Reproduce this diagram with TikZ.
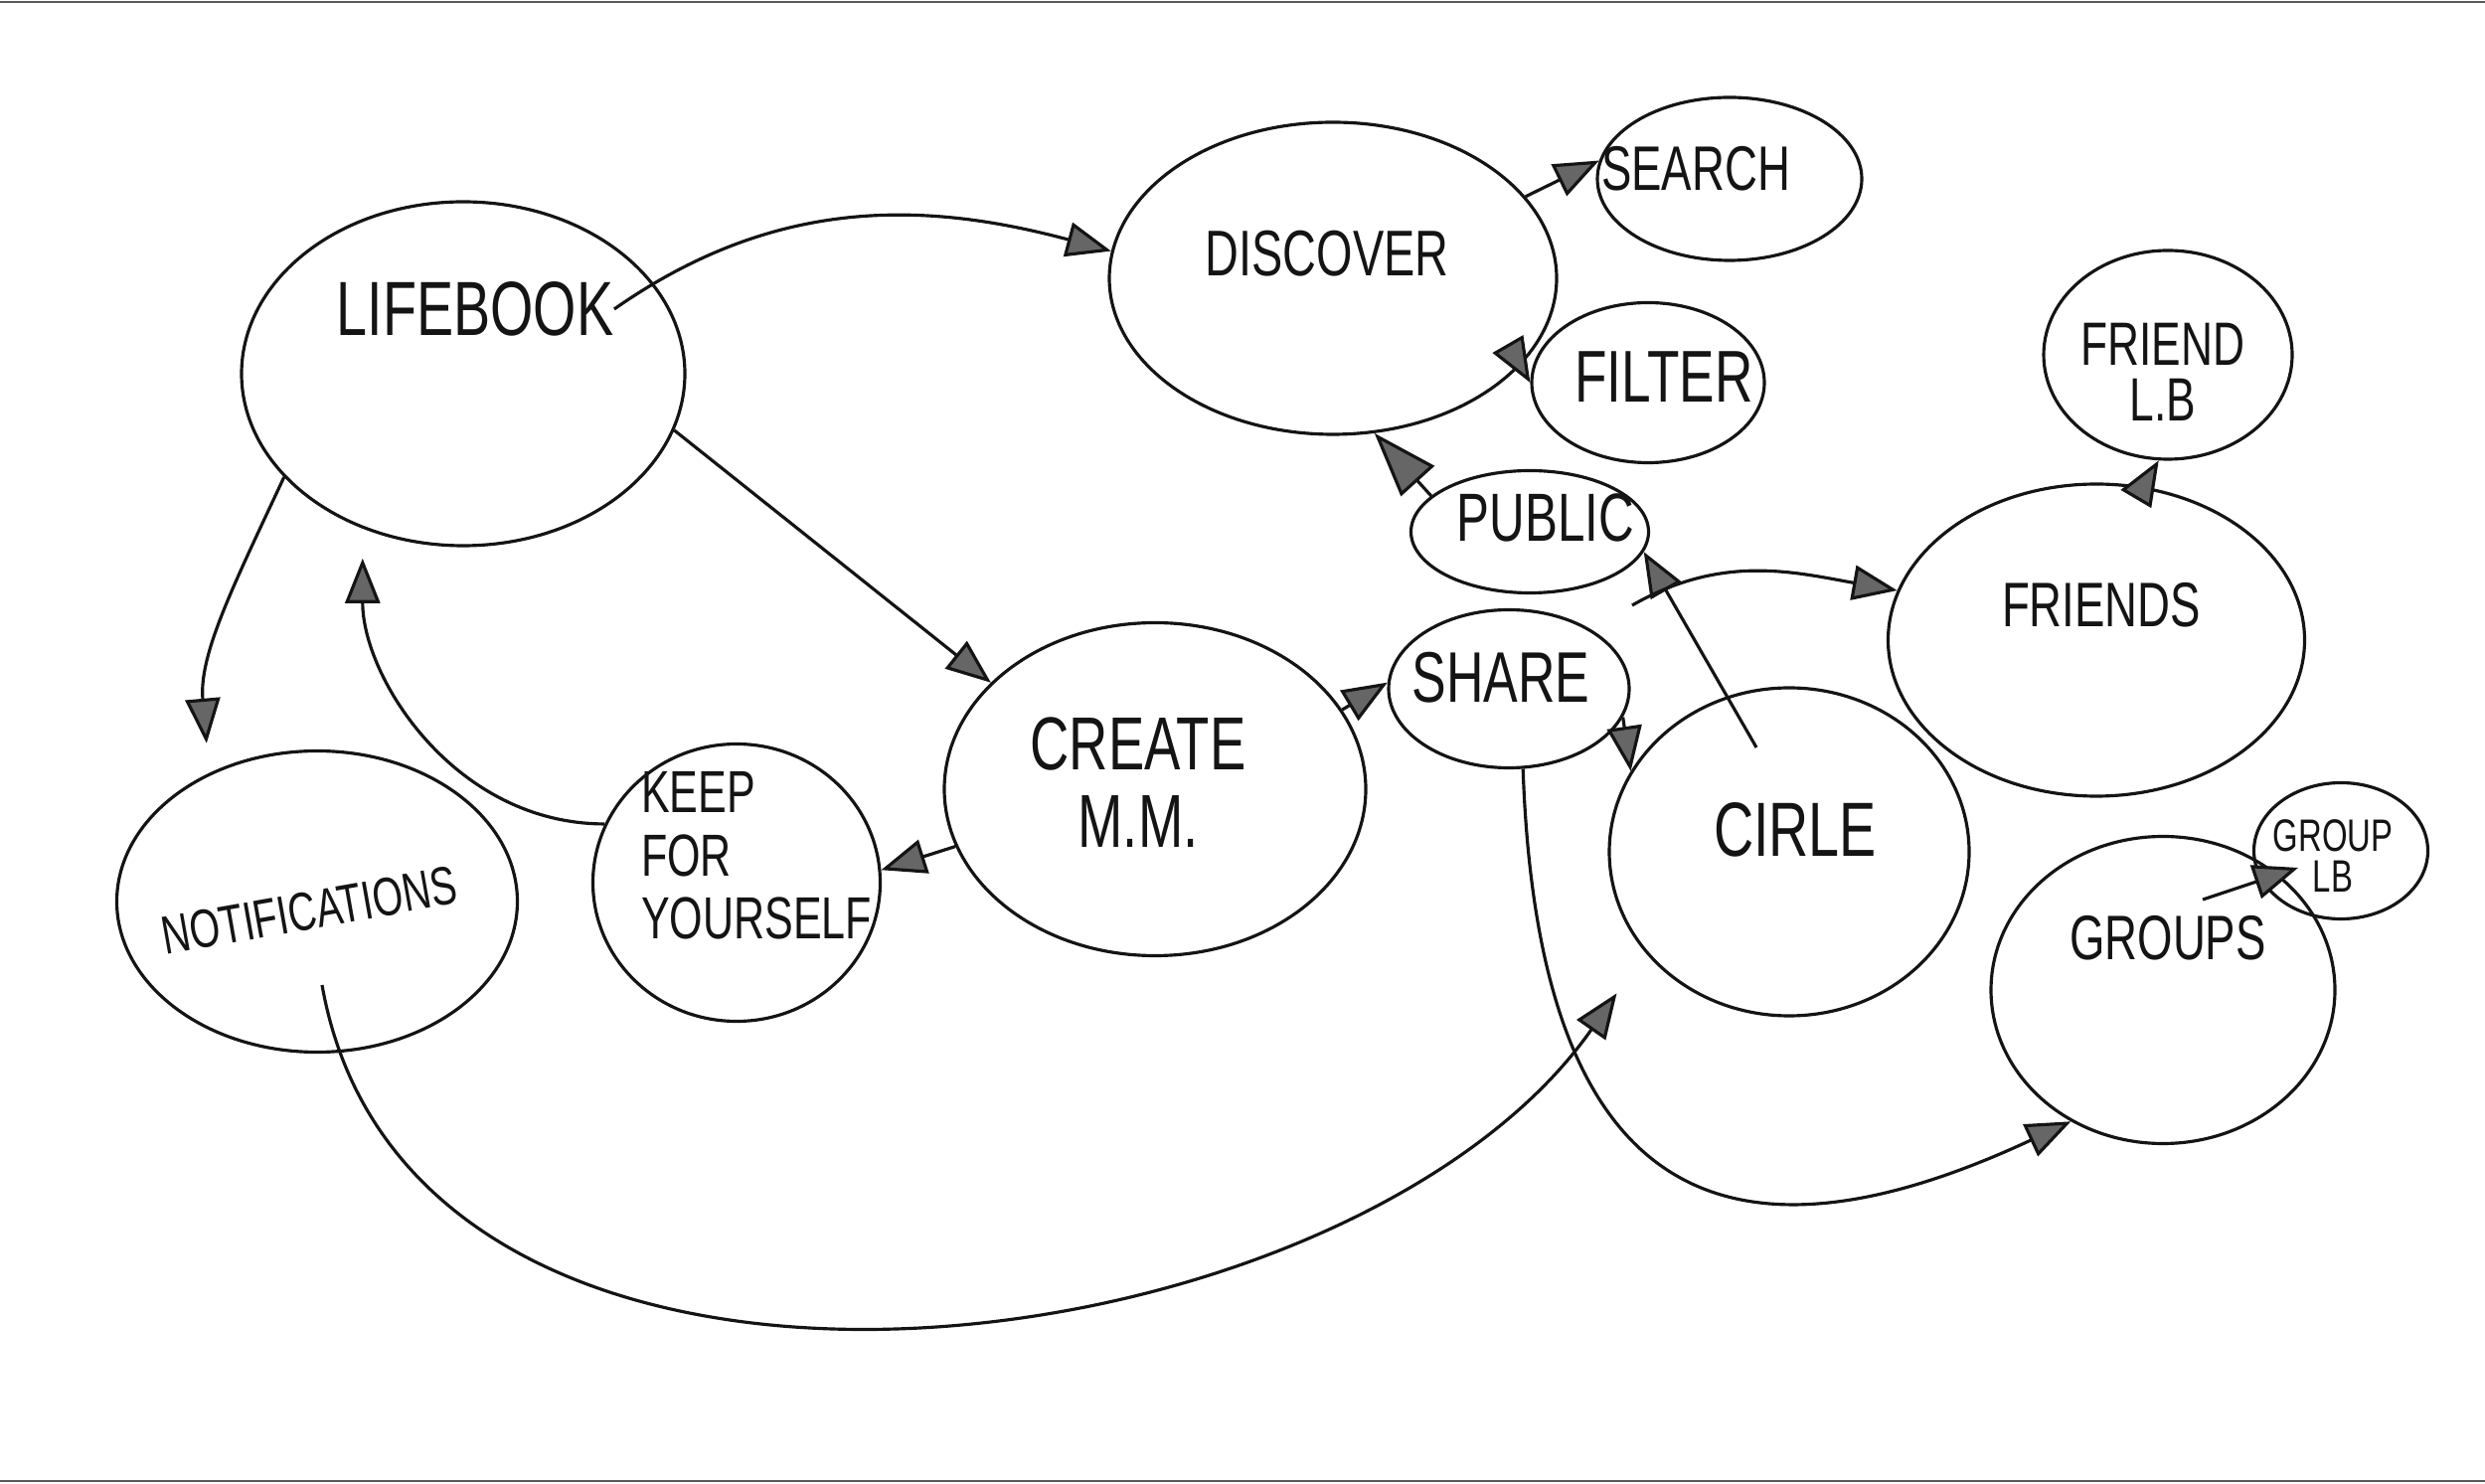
\documentclass[tikz,border=0pt]{standalone}
\usepackage{fontspec}
\usepackage{tikz}
\usetikzlibrary{arrows.meta, positioning, shapes.geometric}
\newfontfamily\handfont[FakeStretch=0.72]{Liberation Sans}
\newcommand{\handsize}[2]{\handfont\fontsize{#1}{#2}\selectfont}
\definecolor{inkblack}{RGB}{20, 20, 20}
\definecolor{scanframe}{RGB}{90, 90, 90}
\tikzset{
  bubble/.style={ellipse, draw=inkblack, line width=0.9pt, inner sep=0pt},
  scrawl/.style={text=inkblack, inner sep=0pt, align=center},
  link/.style={->, line width=0.9pt, draw=inkblack},
  big tip/.style={-{Triangle[length=6.5mm, width=4.5mm, fill=black!60]}},
}

\begin{document}
\begin{tikzpicture}[>={Triangle[length=4.5mm, width=3.5mm, fill=black!60]}]
  \useasboundingbox (0,0) rectangle (25,14.92);

  % --- scan frame ---
  \draw[scanframe, line width=0.7pt] (0,14.9) -- (25,14.9);
  \draw[scanframe, line width=0.7pt] (0,0.02) -- (25,0.02);

  % --- bubbles ---
  \node[bubble, minimum width=4.46cm, minimum height=3.46cm] (lifebook) at (4.66,11.16) {};
  \node[bubble, minimum width=4.50cm, minimum height=3.14cm] (discover) at (13.41,12.12) {};
  \node[bubble, minimum width=2.66cm, minimum height=1.64cm] (search) at (17.40,13.12) {};
  \node[bubble, minimum width=2.34cm, minimum height=1.61cm] (filter) at (16.58,11.07) {};
  \node[bubble, minimum width=2.50cm, minimum height=2.10cm] (friendlb) at (21.81,11.35) {};
  \node[bubble, minimum width=2.39cm, minimum height=1.23cm] (public) at (15.39,9.57) {};
  \node[bubble, minimum width=4.19cm, minimum height=3.14cm] (friends) at (21.09,8.48) {};
  \node[bubble, minimum width=2.42cm, minimum height=1.59cm] (share) at (15.18,7.99) {};
  \node[bubble, minimum width=4.24cm, minimum height=3.35cm] (create) at (11.62,6.98) {};
  \node[bubble, minimum width=3.62cm, minimum height=3.30cm] (circle) at (18.00,6.35) {};
  \node[bubble, minimum width=2.89cm, minimum height=2.79cm] (keep) at (7.41,6.04) {};
  \node[bubble, minimum width=4.03cm, minimum height=3.03cm] (notif) at (3.19,5.85) {};
  \node[bubble, minimum width=3.46cm, minimum height=3.09cm] (groups) at (21.76,4.96) {};
  \node[bubble, minimum width=1.75cm, minimum height=1.37cm] (grouplb) at (23.55,6.36) {};

  % --- handwritten labels ---
  \node[scrawl, font={\handsize{22pt}{26pt}}] (lifebookTxt) at (4.78,11.81) {LIFEBOOK};
  \node[scrawl, font={\handsize{18.5pt}{22pt}}] (discoverTxt) at (13.35,12.37) {DISCOVER};
  \node[scrawl, font={\handsize{18pt}{22pt}}] (searchTxt) at (17.06,13.22) {SEARCH};
  \node[scrawl, font={\handsize{21pt}{25pt}}] (filterTxt) at (16.74,11.13) {FILTER};
  \node[scrawl, font={\handsize{17.5pt}{16pt}}] (friendlbTxt) at (21.76,11.18) {FRIEND\\L.B};
  \node[scrawl, font={\handsize{19.5pt}{23pt}}] (publicTxt) at (15.55,9.71) {PUBLIC};
  \node[scrawl, font={\handsize{18pt}{22pt}}] (friendsTxt) at (21.14,8.83) {FRIENDS};
  \node[scrawl, font={\handsize{20.5pt}{24pt}}] (shareTxt) at (15.10,8.10) {SHARE};
  \node[scrawl, font={\handsize{21.5pt}{22pt}}] (createTxt) at (11.45,7.05) {CREATE\\M.M.};
  \node[scrawl, font={\handsize{22pt}{26pt}}] (circleTxt) at (18.06,6.57) {CIRLE};
  \node[scrawl, align=left, font={\handsize{17pt}{18pt}}] (keepTxt) at (7.61,6.31) {KEEP\\FOR\\YOURSELF};
  \node[scrawl, rotate=10, font={\handsize{15.5pt}{18pt}}] (notifTxt) at (3.11,5.76) {NOTIFICATIONS};
  \node[scrawl, font={\handsize{18pt}{22pt}}] (groupsTxt) at (21.81,5.48) {GROUPS};
  \node[scrawl, font={\handsize{13pt}{11.5pt}}] (grouplbTxt) at (23.47,6.31) {GROUP\\LB};

  % --- free ends ---
  \coordinate (circleTail) at (17.67,7.40);
  \coordinate (shareTail) at (16.42,8.83);
  \coordinate (notifTail) at (3.24,5.01);
  \coordinate (groupsTail) at (22.16,5.87);
  \coordinate (grouplbTip) at (23.12,6.19);

  % --- connectors ---
  \draw[link] (lifebookTxt.east) to[out=35, in=165] (discover.173);
  \draw[link] (lifebook.-15) -- (create.147);
  \draw[link, shorten >=3mm] (lifebook.210) to[out=245, in=95] (notif.130);
  \draw[link, shorten >=3mm] (keep.156) to[out=180, in=-90] (lifebook.237);
  \draw[link] (create.196) -- (keep.5);
  \draw[link] (create.23) -- (share.177);
  \draw[link] (discover.23) -- (search.172);
  \draw[link] (discover.-25) -- (filter.180);
  \draw[link, big tip] (public.160) -- (discover.-75);
  \draw[link] (share.-14) -- (circle.153);
  \draw[link] (circleTail) -- (public.-10);
  \draw[link] (shareTail) to[out=30, in=170] (friends.166);
  \draw[link] (friends.73) -- (friendlb.-95);
  \draw[link] (groupsTail) -- (grouplbTip);
  \draw[link] (share.-80) to[out=-88, in=205, looseness=1.6] (groups.235);
  \draw[link, shorten >=5mm] (notifTail) to[out=-80, in=235] (circle.215);

\end{tikzpicture}
\end{document}
